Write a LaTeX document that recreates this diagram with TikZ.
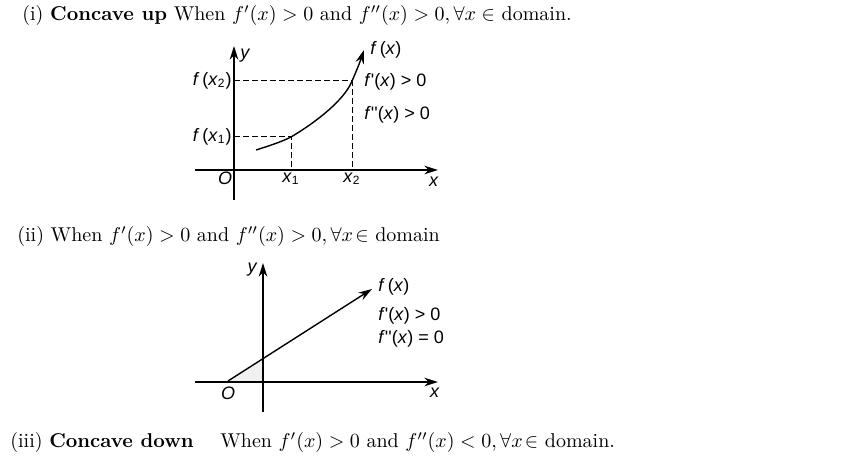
\documentclass[tikz,border=0pt]{standalone}
\usepackage{amsmath,amssymb}
\usepackage{fontspec}
\usetikzlibrary{arrows.meta}
\newfontfamily\lblfont{Liberation Sans}
\newcommand{\iv}[1]{\textit{#1}}
\tikzset{
  axis/.style={-{Stealth[length=2.4mm,width=1.5mm]},line width=0.7pt},
  graph/.style={-{Stealth[length=2.4mm,width=1.5mm]},line width=0.7pt},
  guide/.style={dash pattern=on 3pt off 1.5pt,line width=0.5pt},
  lbl/.style={font=\lblfont\fontsize{9}{10}\selectfont,inner sep=1pt},
  caption/.style={anchor=base west,inner sep=0pt,font=\fontsize{10}{12}\selectfont}
}
\begin{document}
\begin{tikzpicture}[x=0.5pt,y=0.5pt]
  \useasboundingbox (0,0) rectangle (868,465);
  % captions
  \node[caption] (cap1) at (22,444) {(i) \textbf{Concave up} When $f'(x)> 0$ and $f''(x)> 0, \forall x \in$ domain.};
  \node[caption] (cap2) at (17,223) {(ii) When $f'(x)> 0$ and $f''(x)> 0, \forall x\!\in$ domain};
  \node[caption] (cap3) at (10,17) {(iii) \textbf{Concave down}\quad\ When $f'(x)> 0$ and $f''(x)< 0, \forall x\!\in$ domain.};

  % graph (i)
  \coordinate (ya1) at (234,265);
  \coordinate (yb1) at (234,419);
  \coordinate (xa1) at (195,295);
  \coordinate (xb1) at (438,295);
  \draw[axis] (ya1) -- (yb1);
  \draw[axis] (xa1) -- (xb1);
  \coordinate (p1) at (291,328);
  \coordinate (p2) at (352,384);
  \coordinate (s1) at (234,328);
  \coordinate (s2) at (234,384);
  \coordinate (q1) at (291,295);
  \coordinate (q2) at (352,295);
  \draw[guide] (s1) -- (p1) -- (q1);
  \draw[guide] (s2) -- (p2) -- (q2);
  \draw[graph] (256,315) .. controls (275,321) and (283,324) .. (p1)
    .. controls (318,344) and (345,366) .. (p2)
    .. controls (356,393) and (360,403) .. (364,415);
  \node[lbl] (o1) at (225,287) {\iv{O}};
  \node[lbl,anchor=west] (y1) at (238,409) {\iv{y}};
  \node[lbl] (x1) at (434,283) {\iv{x}};
  \node[lbl] (xl1) at (291,286) {\iv{x}\textsubscript{1}};
  \node[lbl] (xl2) at (352,286) {\iv{x}\textsubscript{2}};
  \node[lbl,anchor=east] (fl1) at (s1) {\iv{f}\,(\iv{x}\textsubscript{1})};
  \node[lbl,anchor=east] (fl2) at (s2) {\iv{f}\,(\iv{x}\textsubscript{2})};
  \node[lbl,anchor=west] (fx1) at (368,415) {\iv{f}\,(\iv{x})};
  \node[lbl,anchor=west] (d11) at (362,383) {\iv{f}'(\iv{x}) > 0};
  \node[lbl,anchor=west] (d21) at (362,350) {\iv{f}''(\iv{x}) > 0};

  % graph (ii)
  \coordinate (ya2) at (263,53);
  \coordinate (yb2) at (263,202);
  \coordinate (xa2) at (195,83);
  \coordinate (xb2) at (438,83);
  \coordinate (o2p) at (228,84);
  \coordinate (tip2) at (372,176);
  \fill[gray!12] (o2p) -- (263,83) -- (263,106) -- cycle;
  \draw[axis] (ya2) -- (yb2);
  \draw[axis] (xa2) -- (xb2);
  \draw[graph] (o2p) -- (tip2);
  \node[lbl] (o2) at (228,72) {\iv{O}};
  \node[lbl,anchor=east] (y2) at (260,195) {\iv{y}};
  \node[lbl] (x2) at (435,72) {\iv{x}};
  \node[lbl,anchor=west] (fx2) at (376,178) {\iv{f}\,(\iv{x})};
  \node[lbl,anchor=west] (d12) at (376,149) {\iv{f}'(\iv{x}) > 0};
  \node[lbl,anchor=west] (d22) at (376,126) {\iv{f}''(\iv{x}) = 0};
\end{tikzpicture}
\end{document}
